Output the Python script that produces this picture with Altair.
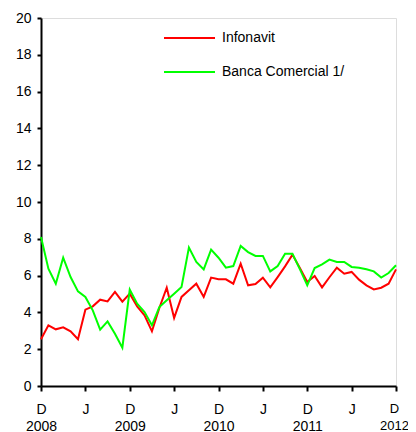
import altair as alt
import pandas as pd

months = list(range(49))
infonavit = [2.54, 3.30, 3.08, 3.19, 2.97, 2.54, 4.15, 4.33, 4.69, 4.60, 5.11, 4.58,
             5.02, 4.33, 3.84, 2.97, 4.24, 5.34, 3.70, 4.84, 5.20, 5.56, 4.84, 5.89,
             5.80, 5.80, 5.56, 6.65, 5.47, 5.54, 5.89, 5.36, 5.92, 6.50, 7.14, 6.41,
             5.65, 5.98, 5.36, 5.91, 6.43, 6.10, 6.20, 5.78, 5.47, 5.25, 5.34, 5.56, 6.34]
banca = [8.10, 6.38, 5.56, 6.97, 5.92, 5.14, 4.84, 4.11, 3.06, 3.51, 2.84, 2.08,
         5.24, 4.47, 4.02, 3.30, 4.29, 4.66, 5.02, 5.38, 7.52, 6.74, 6.34, 7.41,
         6.97, 6.43, 6.52, 7.61, 7.28, 7.07, 7.07, 6.23, 6.52, 7.19, 7.19, 6.35,
         5.47, 6.41, 6.61, 6.87, 6.74, 6.74, 6.47, 6.43, 6.34, 6.23, 5.89, 6.14, 6.56]
series_names = ["Infonavit", "Banca Comercial 1/"]
series_colors = ["#FF0000", "#00FF00"]
tick_values = [0, 6, 12, 18, 24, 30, 36, 42, 48]
tick_labels = [["D", "2008"], "J", ["D", "2009"], "J", ["D", "2010"], "J", ["D", "2011"], "J", ["D", "2012"]]

rows = []
for name, vals in zip(series_names, [infonavit, banca]):
    for m, v in zip(months, vals):
        rows.append({"m": m, "v": v, "s": name})
df = pd.DataFrame(rows)

def lab(x):
    if isinstance(x, list):
        return "[" + ",".join("'%s'" % t for t in x) + "]"
    return "'%s'" % x

expr = ""
for tv, tl in zip(tick_values, tick_labels):
    expr += "datum.value == %d ? %s : " % (tv, lab(tl))
expr += "''"

FONT = "Liberation Sans"
last = tick_values[-1]

lines = alt.Chart(df).mark_line(strokeWidth=2).encode(
    x=alt.X("m:Q", scale=alt.Scale(domain=[0, 48], nice=False, zero=False),
            axis=alt.Axis(values=tick_values, labelExpr=expr, title=None, grid=False,
                          domainColor="black", domainWidth=2, tickColor="black", tickWidth=2,
                          tickSize=5,
                          labelFontSize={"condition": {"test": "datum.value == %d" % last, "value": 13}, "value": 14},
                          labelOffset={"condition": {"test": "datum.value == %d" % last, "value": -2}, "value": 0},
                          labelFont=FONT, labelColor="black",
                          labelPadding=11, labelLineHeight=17, labelFlush=False)),
    y=alt.Y("v:Q", scale=alt.Scale(domain=[0, 20], nice=False),
            axis=alt.Axis(values=list(range(0, 21, 2)), title=None, grid=False,
                          domainColor="black", domainWidth=2, tickColor="black", tickWidth=2,
                          tickSize=4, labelFontSize=14, labelFont=FONT, labelColor="black",
                          labelPadding=6)),
    color=alt.Color("s:N", scale=alt.Scale(domain=series_names, range=series_colors),
                    legend=None),
    order=alt.Order("m:Q"),
)

layers = [lines]
legend_y = [20, 54]
for name, col, ly in zip(series_names, series_colors, legend_y):
    base = alt.Chart(pd.DataFrame({"s": [name]}))
    layers.append(base.mark_rule(color=col, strokeWidth=2).encode(
        x=alt.value(123), x2=alt.value(174), y=alt.value(ly)))
    layers.append(base.mark_text(align="left", baseline="middle", fontSize=14, font=FONT,
                                 color="black").encode(
        x=alt.value(181), y=alt.value(ly), text="s:N"))

chart = alt.layer(*layers).properties(
    width=355, height=368,
    autosize=alt.AutoSizeParams(type="none"),
    padding={"left": 33, "top": 10, "right": 12, "bottom": 46},
).configure_view(stroke=None).configure(background="white")

chart.save("out.html", embed_options={"renderer": "svg", "actions": False})
